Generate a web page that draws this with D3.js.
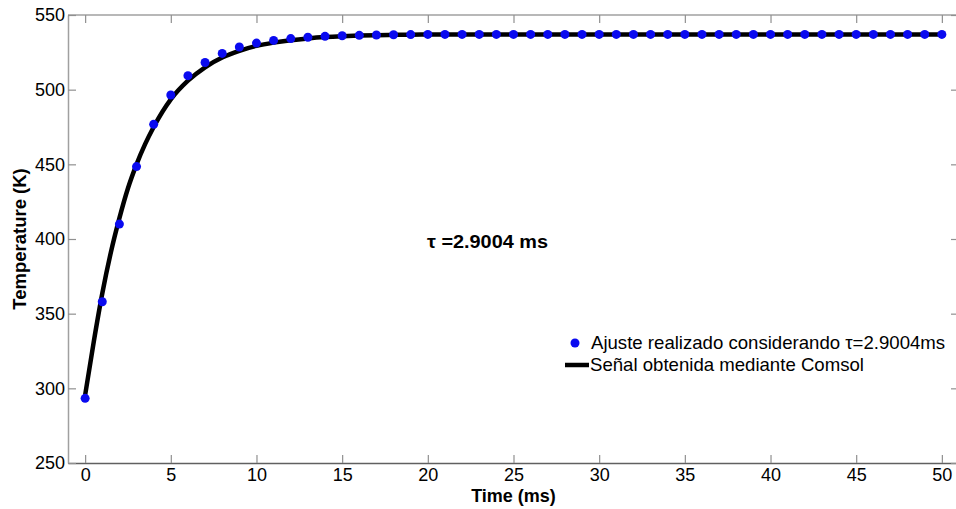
<!DOCTYPE html>
<html>
<head>
<meta charset="utf-8">
<script src="https://cdn.jsdelivr.net/npm/d3@7"></script>
<style>
	body { margin: 0; background: #fff; }
	svg { display: block; font-family: "Liberation Sans", Arial, sans-serif; }
</style>
</head>
<body>
<div id="chart"></div>
<script>
// ajuste (blue dots), one per ms
var fitTime = d3.range(0, 51);
var fitTemp = [293.3, 358, 410, 448.5, 476.8, 496.4, 509.4, 518.2, 524.3, 528.6,
	531.2, 533, 534.2, 535.1, 535.7, 536.1, 536.4, 536.6, 536.8, 536.9,
	537, 537, 537, 537, 537, 537, 537, 537, 537, 537,
	537, 537, 537, 537, 537, 537, 537, 537, 537, 537,
	537, 537, 537, 537, 537, 537, 537, 537, 537, 537, 537];
// senal Comsol (black line)
var simTime = [0, 0.5, 1, 1.5, 2, 2.5, 3, 3.5, 4, 5, 6, 7, 8, 9, 10, 11, 12, 13, 14, 15, 16, 17, 18, 19, 20, 25, 30, 35, 40, 45, 50];
var simTemp = [295.5, 331, 363.5, 391, 414, 434, 450, 463.5, 475, 493.5, 506, 515, 521.5, 526, 529.3, 531.5, 533.1, 534.3, 535.2, 535.8, 536.2, 536.5, 536.7, 536.8, 536.9, 537, 537, 537, 537, 537, 537];
var xTicks = [0, 5, 10, 15, 20, 25, 30, 35, 40, 45, 50];
var yTicks = [250, 300, 350, 400, 450, 500, 550];

var W = 956, H = 509;
var svg = d3.select("#chart").append("svg:svg")
	.attr("width", W).attr("height", H);

var x = d3.scaleLinear().domain([-1, 51]).range([68, 959]);
var y = d3.scaleLinear().domain([250, 550]).range([463, 15]);

// box
svg.append("line").attr("x1", 68).attr("x2", 959).attr("y1", 15).attr("y2", 15)
	.attr("stroke", "#a0a0a0").attr("stroke-width", 1.5);

var xAxis = svg.append("g").attr("transform", "translate(0,463)")
	.call(d3.axisBottom(x).tickValues(xTicks).tickSizeInner(-8).tickSizeOuter(0).tickPadding(5));
var xTop = svg.append("g").attr("transform", "translate(0,15)")
	.call(d3.axisTop(x).tickValues(xTicks).tickSizeInner(-8).tickSizeOuter(0).tickFormat(""));
var yAxis = svg.append("g").attr("transform", "translate(68,0)")
	.call(d3.axisLeft(y).tickValues(yTicks).tickSizeInner(-8).tickSizeOuter(0).tickPadding(3));
var yRight = svg.append("g").attr("transform", "translate(959,0)")
	.call(d3.axisRight(y).tickValues(yTicks).tickSizeInner(-8).tickSizeOuter(0).tickFormat(""));

[xAxis, yAxis, xTop, yRight].forEach(function(g) {
	g.selectAll("text").attr("fill", "#000").style("font-size", "18px")
		.style("font-family", "'Liberation Sans', Arial, sans-serif");
	g.selectAll(".tick line").attr("stroke", "#909090").attr("stroke-width", 1.2);
	g.select(".domain").attr("stroke", "#a0a0a0").attr("stroke-width", 1.5);
});
xAxis.select(".domain").attr("stroke", "#606060");
xTop.select(".domain").remove();

// line
var line = d3.line()
	.x(function(d, i) { return x(simTime[i]); })
	.y(function(d) { return y(d); })
	.curve(d3.curveMonotoneX);
svg.append("path")
	.datum(simTemp)
	.attr("d", line)
	.attr("fill", "none")
	.attr("stroke", "#000")
	.attr("stroke-width", 4.5)
	.attr("stroke-linejoin", "round");

// dots
svg.append("g").selectAll("circle")
	.data(fitTemp)
	.enter().append("circle")
	.attr("cx", function(d, i) { return x(fitTime[i]); })
	.attr("cy", function(d) { return y(d); })
	.attr("r", 4.5)
	.style("fill", "#0a0af0");

// labels
svg.append("text")
	.attr("x", (x(-1) + x(51)) / 2).attr("y", 502)
	.attr("text-anchor", "middle")
	.style("font-size", "18px").style("font-weight", "bold")
	.text("Time (ms)");
svg.append("text")
	.attr("transform", "translate(26," + ((y(250) + y(550)) / 2) + ") rotate(-90)")
	.attr("text-anchor", "middle")
	.style("font-size", "18.5px").style("font-weight", "bold")
	.text("Temperature (K)");
svg.append("text")
	.attr("x", 427).attr("y", 248)
	.attr("textLength", 121).attr("lengthAdjust", "spacingAndGlyphs")
	.style("font-size", "18px").style("font-weight", "bold")
	.text("\u03c4 =2.9004 ms");

// legend
var legend = svg.append("g");
legend.append("circle").attr("cx", 575).attr("cy", 343).attr("r", 4.5).style("fill", "#0a0af0");
legend.append("text").attr("x", 591).attr("y", 349).style("font-size", "18.6px")
	.text("Ajuste realizado considerando \u03c4=2.9004ms");
legend.append("line").attr("x1", 565).attr("x2", 589).attr("y1", 365).attr("y2", 365)
	.attr("stroke", "#000").attr("stroke-width", 4.5);
legend.append("text").attr("x", 590).attr("y", 371).style("font-size", "18.6px")
	.text("Señal obtenida mediante Comsol");
</script>
</body>
</html>
